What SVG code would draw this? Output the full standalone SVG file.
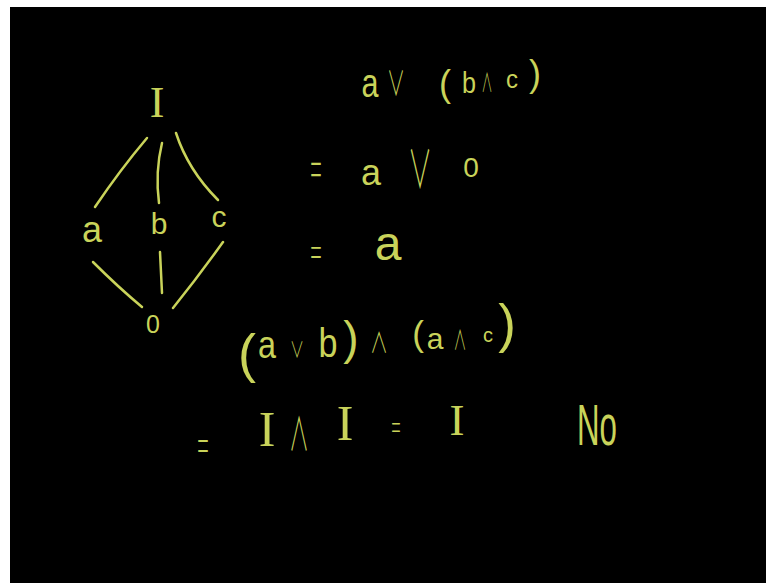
<svg xmlns="http://www.w3.org/2000/svg" width="766" height="583" viewBox="0 0 766 583">
<style>
.ink{fill:#c9d35a;font-family:"Liberation Sans","DejaVu Sans",sans-serif;text-anchor:middle}
.ser{font-family:"Liberation Serif","DejaVu Serif",serif}
.sym{font-family:"Noto Sans CJK JP","DejaVu Sans",sans-serif;font-weight:300}
.edge{fill:none;stroke:#c9d35a;stroke-width:2.5;stroke-linecap:round}
</style>
<rect x="0" y="0" width="766" height="583" fill="#ffffff"/>
<rect x="10" y="7" width="756" height="576" fill="#000000"/>
<g id="connectors">
<path class="edge" d="M147,138 Q120,170 95,207"/>
<path class="edge" d="M162,143 Q155,172 159,203"/>
<path class="edge" d="M176,133 Q188,170 218,200"/>
<path class="edge" d="M93,262 Q118,287 142,307"/>
<path class="edge" d="M160,252 L162,293"/>
<path class="edge" d="M223,242 Q198,277 173,308"/>
</g>
<g id="node-I"><text class="ink ser" x="157" y="117" font-size="44">I</text></g>
<g id="node-a"><text class="ink" x="92" y="242" font-size="36">a</text></g>
<g id="node-b"><text class="ink" x="159" y="234" font-size="30">b</text></g>
<g id="node-c"><text class="ink" x="219" y="227" font-size="30">c</text></g>
<g id="node-0"><text class="ink" x="153" y="333" font-size="25">0</text></g>
<g id="expr-1">
<text class="ink" x="370" y="97" font-size="40" textLength="17" lengthAdjust="spacingAndGlyphs">a</text>
<text class="ink sym" x="396" y="96" font-size="34" textLength="18" lengthAdjust="spacingAndGlyphs">∨</text>
<text class="ink" x="445" y="96" font-size="36">(</text>
<text class="ink" x="469" y="93" font-size="30" textLength="14" lengthAdjust="spacingAndGlyphs">b</text>
<text class="ink sym" x="487" y="92" font-size="26" textLength="11" lengthAdjust="spacingAndGlyphs">∧</text>
<text class="ink" x="512" y="88" font-size="26" textLength="12" lengthAdjust="spacingAndGlyphs">c</text>
<text class="ink" x="535" y="86" font-size="36">)</text>
</g>
<g id="expr-2">
<text class="ink sym" x="316" y="188" font-size="50" textLength="11" lengthAdjust="spacingAndGlyphs">=</text>
<text class="ink" x="371" y="185" font-size="36">a</text>
<text class="ink sym" x="420" y="188" font-size="52" textLength="24" lengthAdjust="spacingAndGlyphs">∨</text>
<text class="ink" x="471" y="177" font-size="28">0</text>
</g>
<g id="expr-3">
<text class="ink sym" x="316" y="267" font-size="40" textLength="11" lengthAdjust="spacingAndGlyphs">=</text>
<text class="ink" x="388" y="260" font-size="48">a</text>
</g>
<g id="expr-4">
<text class="ink" x="247" y="372" font-size="54">(</text>
<text class="ink" x="267" y="358" font-size="38" textLength="18" lengthAdjust="spacingAndGlyphs">a</text>
<text class="ink sym" x="297" y="357" font-size="22" textLength="14" lengthAdjust="spacingAndGlyphs">∨</text>
<text class="ink" x="328" y="357" font-size="40" textLength="19" lengthAdjust="spacingAndGlyphs">b</text>
<text class="ink" x="351" y="354" font-size="46">)</text>
<text class="ink sym" x="379" y="353" font-size="28" textLength="18" lengthAdjust="spacingAndGlyphs">∧</text>
<text class="ink" x="418" y="346" font-size="35">(</text>
<text class="ink" x="435" y="349" font-size="30">a</text>
<text class="ink sym" x="460" y="350" font-size="27" textLength="13" lengthAdjust="spacingAndGlyphs">∧</text>
<text class="ink" x="488" y="342" font-size="20" textLength="10" lengthAdjust="spacingAndGlyphs">c</text>
<text class="ink" x="507" y="342" font-size="53">)</text>
</g>
<g id="expr-5">
<text class="ink sym" x="203" y="462" font-size="44" textLength="11" lengthAdjust="spacingAndGlyphs">=</text>
<text class="ink ser" x="267" y="446" font-size="50">I</text>
<text class="ink sym" x="299" y="450" font-size="46" textLength="20" lengthAdjust="spacingAndGlyphs">∧</text>
<text class="ink ser" x="345" y="440" font-size="50">I</text>
<text class="ink sym" x="396" y="440" font-size="34" textLength="9" lengthAdjust="spacingAndGlyphs">=</text>
<text class="ink ser" x="457" y="435" font-size="45">I</text>
<text class="ink" x="597" y="445" font-size="58" textLength="40" lengthAdjust="spacingAndGlyphs">No</text>
</g>
</svg>
